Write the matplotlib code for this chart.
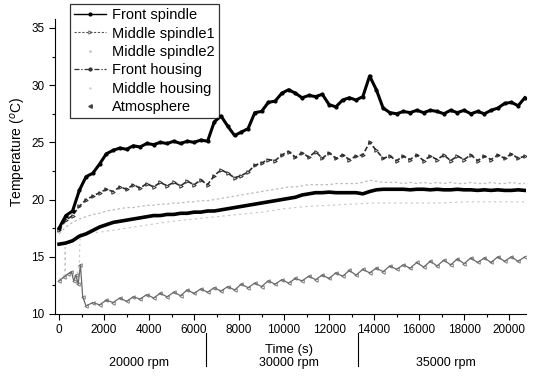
import numpy as np
import matplotlib
matplotlib.use("Agg")
import matplotlib.pyplot as plt
from matplotlib.lines import Line2D
from matplotlib.ticker import MultipleLocator
import matplotlib.transforms as mtransforms

plt.rcParams["font.family"] = ["Liberation Sans", "DejaVu Sans"]

# time grid shared by the spindle / front housing records (s)
t_main = np.arange(0, 20701, 300)

front_spindle = [17.5, 18.6, 19.0, 20.8, 22.0, 22.3, 23.1, 24.0, 24.3, 24.5,
                 24.4, 24.7, 24.6, 24.9, 24.8, 25.0, 24.9, 25.1, 24.9, 25.1,
                 25.0, 25.2, 25.1, 26.8, 27.3, 26.4, 25.6, 25.9, 26.2, 27.6,
                 27.7, 28.5, 28.6, 29.3, 29.6, 29.3, 28.9, 29.1, 29.0, 29.2,
                 28.3, 28.1, 28.7, 28.9, 28.7, 29.0, 30.8, 29.6, 28.0, 27.6,
                 27.5, 27.7, 27.6, 27.8, 27.6, 27.8, 27.7, 27.5, 27.8, 27.6,
                 27.8, 27.5, 27.7, 27.5, 27.8, 28.0, 28.4, 28.5, 28.2, 28.9]

middle_spindle1 = [17.3, 18.2, 18.6, 19.4, 20.0, 20.3, 20.6, 20.9, 20.7, 21.1,
                   20.9, 21.3, 21.0, 21.4, 21.1, 21.5, 21.2, 21.5, 21.2, 21.6,
                   21.3, 21.7, 21.3, 22.1, 22.6, 22.3, 21.9, 22.1, 22.4, 23.0,
                   23.2, 23.5, 23.4, 23.9, 24.2, 23.7, 24.1, 23.7, 24.2, 23.6,
                   24.1, 23.6, 23.9, 23.5, 23.8, 23.9, 25.0, 24.3, 23.6, 23.8,
                   23.4, 23.8, 23.5, 23.9, 23.4, 23.8, 23.5, 23.9, 23.4, 23.8,
                   23.5, 23.9, 23.4, 23.8, 23.5, 23.9, 23.6, 24.0, 23.6, 23.8]

middle_spindle2 = [17.0, 17.6, 18.0, 18.3, 18.5, 18.7, 18.8, 19.0, 19.1, 19.2,
                   19.3, 19.3, 19.4, 19.5, 19.5, 19.6, 19.6, 19.7, 19.7, 19.8,
                   19.8, 19.9, 19.9, 20.0, 20.1, 20.2, 20.3, 20.4, 20.5, 20.6,
                   20.7, 20.8, 20.9, 21.0, 21.1, 21.1, 21.2, 21.3, 21.3, 21.3,
                   21.3, 21.4, 21.4, 21.4, 21.4, 21.5, 21.7, 21.6, 21.5, 21.5,
                   21.5, 21.4, 21.5, 21.4, 21.5, 21.4, 21.5, 21.4, 21.5, 21.4,
                   21.4, 21.5, 21.4, 21.4, 21.5, 21.4, 21.4, 21.5, 21.4, 21.4]

front_housing = [16.1, 16.2, 16.4, 16.8, 17.0, 17.3, 17.6, 17.8, 18.0, 18.1,
                 18.2, 18.3, 18.4, 18.5, 18.6, 18.6, 18.7, 18.7, 18.8, 18.8,
                 18.9, 18.9, 19.0, 19.0, 19.1, 19.2, 19.3, 19.4, 19.5, 19.6,
                 19.7, 19.8, 19.9, 20.0, 20.1, 20.2, 20.4, 20.5, 20.6, 20.6,
                 20.65, 20.6, 20.6, 20.6, 20.6, 20.5, 20.7, 20.85, 20.9, 20.9,
                 20.9, 20.9, 20.85, 20.9, 20.9, 20.85, 20.9, 20.85, 20.85, 20.9,
                 20.85, 20.85, 20.8, 20.85, 20.8, 20.85, 20.8, 20.8, 20.85, 20.8]

t_mid_housing = [0, 150, 260, 270, 280, 450, 600, 750, 900, 940, 1000,
                 2000, 3000, 4000, 5000, 6000, 7000, 8000, 9000, 10000, 11000,
                 12000, 13000, 14000, 15000, 16000, 17000, 18000, 19000, 20000, 20700]
middle_housing = [13.0, 13.3, 13.4, 15.8, 13.4, 13.6, 13.5, 13.0, 14.5, 17.0, 17.0,
                  17.2, 17.5, 17.8, 18.1, 18.3, 18.5, 18.7, 18.9, 19.2, 19.4,
                  19.5, 19.6, 19.7, 19.7, 19.7, 19.7, 19.8, 19.8, 19.8, 19.8]

t_atmosphere = np.concatenate([[0, 200, 400, 550, 650, 750, 850, 950, 1050],
                               np.arange(1200, 20701, 300)])
atmosphere = [12.9, 13.2, 13.5, 13.7, 12.9, 13.4, 12.6, 14.3, 11.5,
              10.7, 11.0, 10.8, 11.2, 11.0, 11.4, 11.1, 11.5, 11.3, 11.7,
              11.4, 11.8, 11.5, 11.9, 11.6, 12.1, 11.8, 12.2, 11.9, 12.3,
              12.0, 12.4, 12.1, 12.6, 12.3, 12.7, 12.4, 12.9, 12.6, 13.0,
              12.7, 13.1, 12.9, 13.3, 13.0, 13.4, 13.1, 13.6, 13.3, 13.8,
              13.4, 13.9, 13.6, 14.0, 13.7, 14.2, 13.9, 14.3, 14.0, 14.5,
              14.1, 14.6, 14.2, 14.7, 14.3, 14.8, 14.4, 14.9, 14.5, 14.9,
              14.5, 15.0, 14.6, 15.0, 14.6, 15.0]

speed_changes = [6550, 13300]
speed_labels = ["20000 rpm", "30000 rpm", "35000 rpm"]
speed_label_x = [3560, 10220, 17200]

fig = plt.figure(figsize=(5.34, 3.76), dpi=100)
ax = fig.add_axes([0.103, 0.165, 0.882, 0.785])

ax.plot(t_mid_housing, middle_housing, color="#c4c4c4", lw=0.8, ls=(0, (2, 3)))
ax.plot(t_main, middle_spindle2, color="#bcbcbc", lw=0.9, ls=(0, (2, 2)))
ax.plot(t_atmosphere, atmosphere, color="#6a6a6a", lw=0.9,
        marker="<", ms=2.5, mfc="none", mew=0.6)
ax.plot(t_main, middle_spindle1, color="#2e2e2e", lw=1.2, ls=(0, (3, 1.5)),
        marker=">", ms=2.5, mfc="none", mew=0.7)
ax.plot(t_main, front_housing, color="black", lw=2.6)
ax.plot(t_main, front_spindle, color="black", lw=2.2, marker="o", ms=2)

ax.set_xlim(-180, 20750)
ax.set_ylim(10, 35.8)
ax.set_yticks([10, 15, 20, 25, 30, 35])
ax.set_xticks(np.arange(0, 20001, 2000))
ax.xaxis.set_minor_locator(MultipleLocator(1000))
ax.yaxis.set_minor_locator(MultipleLocator(2.5))
ax.tick_params(which="major", direction="out", length=4, width=0.8, labelsize=8.5)
ax.tick_params(which="minor", direction="out", length=2, width=0.8)
ax.spines["top"].set_visible(False)
ax.spines["right"].set_visible(False)
ax.set_ylabel("Temperature ($^o$C)", fontsize=10)
ax.yaxis.set_label_coords(-0.058, 0.55)

# speed phases below the time axis
trans = mtransforms.blended_transform_factory(ax.transData, ax.transAxes)
for x in speed_changes:
    ax.plot([x, x], [-0.065, -0.175], transform=trans, color="black",
            lw=0.8, clip_on=False)
for x, lab in zip(speed_label_x, speed_labels):
    ax.text(x, -0.165, lab, transform=trans, ha="center", va="center", fontsize=9)
ax.text(10220, -0.122, "Time (s)", transform=trans, ha="center", va="center",
        fontsize=9.5)

handles = [
    Line2D([], [], color="black", lw=1.0, marker="o", ms=2),
    Line2D([], [], color="#555555", lw=0.8, ls=(0, (2, 1.5)), marker=">",
           ms=2.5, mfc="none", mew=0.6),
    Line2D([], [], color="#bbbbbb", lw=0, marker=".", ms=1.5),
    Line2D([], [], color="#333333", lw=0.9, ls=(0, (4, 1.5, 1, 1.5)),
           marker="o", ms=2),
    Line2D([], [], color="#cccccc", lw=0, marker=".", ms=1.5),
    Line2D([], [], color="#444444", lw=0, marker="<", ms=2.5),
]
labels = ["Front spindle", "Middle spindle1", "Middle spindle2",
          "Front housing", "Middle housing", "Atmosphere"]
leg = fig.legend(handles, labels, loc="upper left", bbox_to_anchor=(0.131, 0.99),
                 fontsize=10.5, frameon=True, fancybox=False, edgecolor="black",
                 handlelength=2.2, handletextpad=0.4, labelspacing=0.3,
                 borderpad=0.3, borderaxespad=0)
leg.get_frame().set_linewidth(0.9)

fig.savefig("out.png", dpi=100)
